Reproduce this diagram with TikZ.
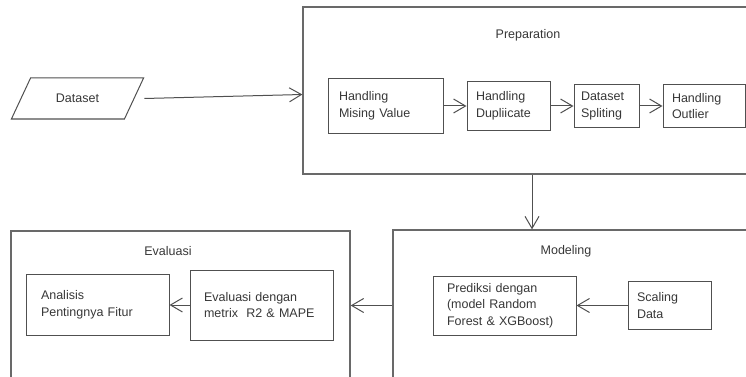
\documentclass[tikz,border=0pt]{standalone}
\usepackage{fontspec}
\setmainfont{Liberation Sans}
\usepackage{tikz}
\usetikzlibrary{positioning,arrows.meta,shapes.geometric}
\definecolor{linegray}{RGB}{80,80,80}
\definecolor{framegray}{RGB}{105,105,105}
\definecolor{textgray}{RGB}{55,55,55}
\tikzset{
    frame/.style={draw=framegray, line width=1.3pt, inner sep=0pt},
    proc/.style={draw=linegray, line width=1pt, align=left, inner ysep=0pt, font=\fontsize{12.5}{16.5}\selectfont, text=textgray},
    title/.style={font=\fontsize{12.5}{16.5}\selectfont, text=textgray},
    datain/.style={draw=linegray, line width=1pt, trapezium, trapezium left angle=56.6, trapezium right angle=123.4, trapezium stretches=true, minimum width=133pt, minimum height=41pt, font=\fontsize{12.5}{16.5}\selectfont, text=textgray},
    arrow/.style={-{Straight Barb[length=12pt,width=14pt]}, line width=1pt, draw=linegray}
}

\begin{document}
\begin{tikzpicture}[x=1pt, y=-1pt, node distance=23pt]
\useasboundingbox (0,0) rectangle (746,377);
\clip (0,0) rectangle (746,377);
% frames
\node[frame, minimum width=458pt, minimum height=167pt] (prep) at (532,90.5) {};
\node[frame, minimum width=407pt, minimum height=190pt] (model) at (596.5,325) {};
\node[frame, minimum width=339pt, minimum height=189pt] (evalbox) at (180.5,325.5) {};
\node[title] (preptitle) at (528,35) {Preparation};
\node[title] (modeltitle) at (566,251) {Modeling};
\node[title] (evaltitle) at (168,251) {Evaluasi};

\node[datain] (data) at (77.5,98.5) {Dataset};

% preparation steps
\node[proc, text width=93pt, inner xsep=11pt, minimum height=55pt] (mising) at (385.5,106) {Handling\\Mising Value};
\node[proc, text width=65pt, inner xsep=9pt, minimum height=48pt, right=of mising] (dupli) {Handling\\Dupliicate};
\node[proc, text width=51pt, inner xsep=7pt, minimum height=42pt, right=of dupli] (split) {Dataset\\Spliting};
\node[proc, text width=64pt, inner xsep=9pt, minimum height=42pt, right=of split] (outlier) {Handling\\Outlier};

% modeling
\node[proc, text width=115pt, inner xsep=14pt, minimum height=59pt] (pred) at (504.5,305.5) {Prediksi dengan\\(model Random\\Forest \& XGBoost)};
\node[proc, text width=65pt, inner xsep=9pt, minimum height=48pt, right=51pt of pred] (scale) {Scaling\\Data};

% evaluasi
\node[proc, text width=115pt, inner xsep=14pt, minimum height=70pt] (evalm) at (261.5,305) {Evaluasi dengan\\metrix\ \ R2 \& MAPE};
\node[proc, text width=113pt, inner xsep=15pt, minimum height=61pt, left=20pt of evalm] (analisis) {Analisis\\Pentingnya Fitur};

\draw[arrow] (data.top right corner |- data.center) -- ([yshift=-4pt]prep.west);
\draw[arrow] (mising) -- (dupli);
\draw[arrow] (dupli) -- (split);
\draw[arrow] (split) -- (outlier);
\draw[arrow] (prep.south) -- (prep.south |- model.north);
\draw[arrow] (scale) -- (pred);
\draw[arrow] (model.west |- pred) -- (evalbox.east |- pred);
\draw[arrow] (evalm) -- (analisis);
\end{tikzpicture}
\end{document}
